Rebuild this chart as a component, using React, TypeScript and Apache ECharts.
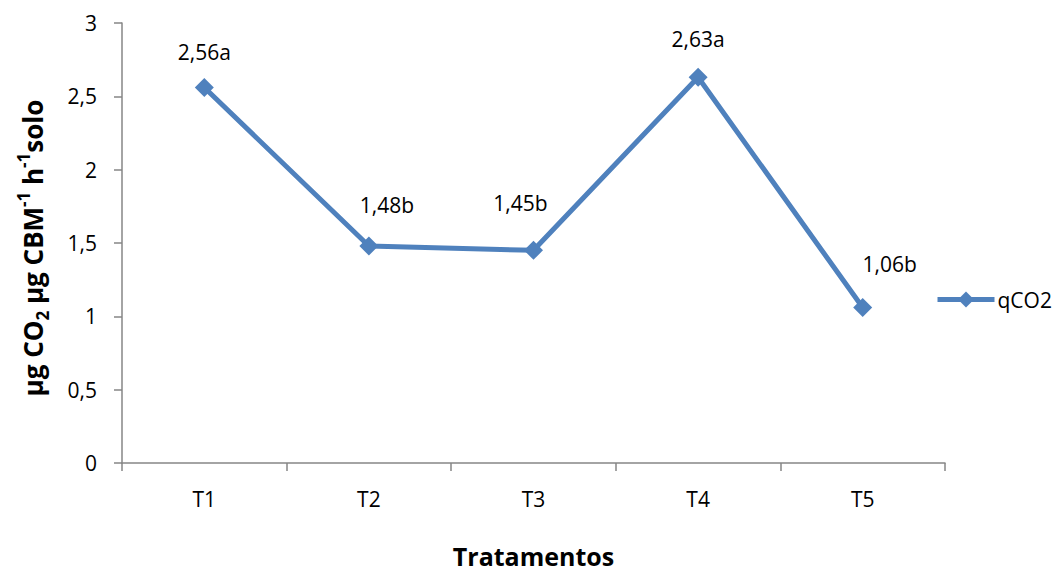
import React, { useEffect, useRef } from "react";
import * as echarts from "echarts";

const categories = ["T1", "T2", "T3", "T4", "T5"];
const values = [2.56, 1.48, 1.45, 2.63, 1.06];
const letters = ["a", "b", "b", "a", "b"];
const seriesName = "qCO2";

export default function App() {
  const ref = useRef<HTMLDivElement>(null);
  useEffect(() => {
    const chart = echarts.init(ref.current!, null, { renderer: "svg" });
    const font = "'Open Sans', 'Liberation Sans', sans-serif";
    // label nudges (layout only), as placed in the original
    const labelNudge: [number, number][] = [[0, 0], [18, -5], [-13, -11], [0, -2], [27, -8]];
    chart.setOption({
      animation: false,
      textStyle: { fontFamily: font },
      grid: { left: 122, top: 23, right: 115, bottom: 111, containLabel: false, outerBoundsMode: "none" },
      legend: {
        left: 930,
        top: 284,
        itemWidth: 57,
        itemHeight: 20,
        itemGap: 2,
        lineStyle: { width: 5 },
        textStyle: { fontSize: 21, color: "#000", fontFamily: font, padding: [0, 0, 0, -2] },
        data: [seriesName],
      },
      xAxis: {
        type: "category",
        data: categories,
        boundaryGap: true,
        name: "Tratamentos",
        nameLocation: "middle",
        nameGap: 80,
        nameTextStyle: { fontSize: 25, fontWeight: "bold", color: "#000", fontFamily: font },
        axisLine: { lineStyle: { color: "#868686", width: 1.5 } },
        axisTick: { show: true, length: 8, inside: false, lineStyle: { color: "#868686", width: 1.5 } },
        axisLabel: { fontSize: 21, color: "#000", margin: 25, fontFamily: font },
      },
      yAxis: {
        type: "value",
        min: 0,
        max: 3,
        interval: 0.5,
        splitLine: { show: false },
        axisLine: { show: true, lineStyle: { color: "#868686", width: 1.5 } },
        axisTick: { show: true, length: 8, lineStyle: { color: "#868686", width: 1.5 } },
        axisLabel: {
          fontSize: 21,
          color: "#000",
          margin: 25,
          fontFamily: font,
          formatter: (v: number) => String(v).replace(".", ","),
        },
      },
      graphic: [
        {
          type: "text",
          x: 33,
          y: 248,
          rotation: Math.PI / 2,
          style: {
            text: "{m|µg CO}{sub|2}{m| µg CBM}{sup|-1}{m| h}{sup|-1}{m|solo}",
            align: "center",
            verticalAlign: "middle",
            fill: "#000",
            rich: {
              m: { fontSize: 26, fontWeight: "bold", fontFamily: font, fill: "#000", lineHeight: 36, verticalAlign: "middle" },
              sub: { fontSize: 17, fontWeight: "bold", fontFamily: font, fill: "#000", verticalAlign: "bottom", lineHeight: 36 },
              sup: { fontSize: 17, fontWeight: "bold", fontFamily: font, fill: "#000", verticalAlign: "top", lineHeight: 36 },
            },
          },
        },
      ],
      series: [
        {
          name: seriesName,
          type: "line",
          data: values.map((v, i) => ({ value: v, label: { offset: labelNudge[i] } })),
          symbol: "diamond",
          symbolSize: 19,
          lineStyle: { color: "#4F81BD", width: 5 },
          itemStyle: { color: "#4F81BD" },
          label: {
            show: true,
            position: "top",
            distance: 16,
            fontSize: 21,
            color: "#000",
            fontFamily: font,
            formatter: (p: any) => values[p.dataIndex].toFixed(2).replace(".", ",") + letters[p.dataIndex],
          },
        },
      ],
    });
    return () => chart.dispose();
  }, []);
  return (
    <div
      ref={ref}
      style={{ position: "fixed", left: 0, top: 0, width: 1060, height: 574, background: "#fff" }}
    />
  );
}
